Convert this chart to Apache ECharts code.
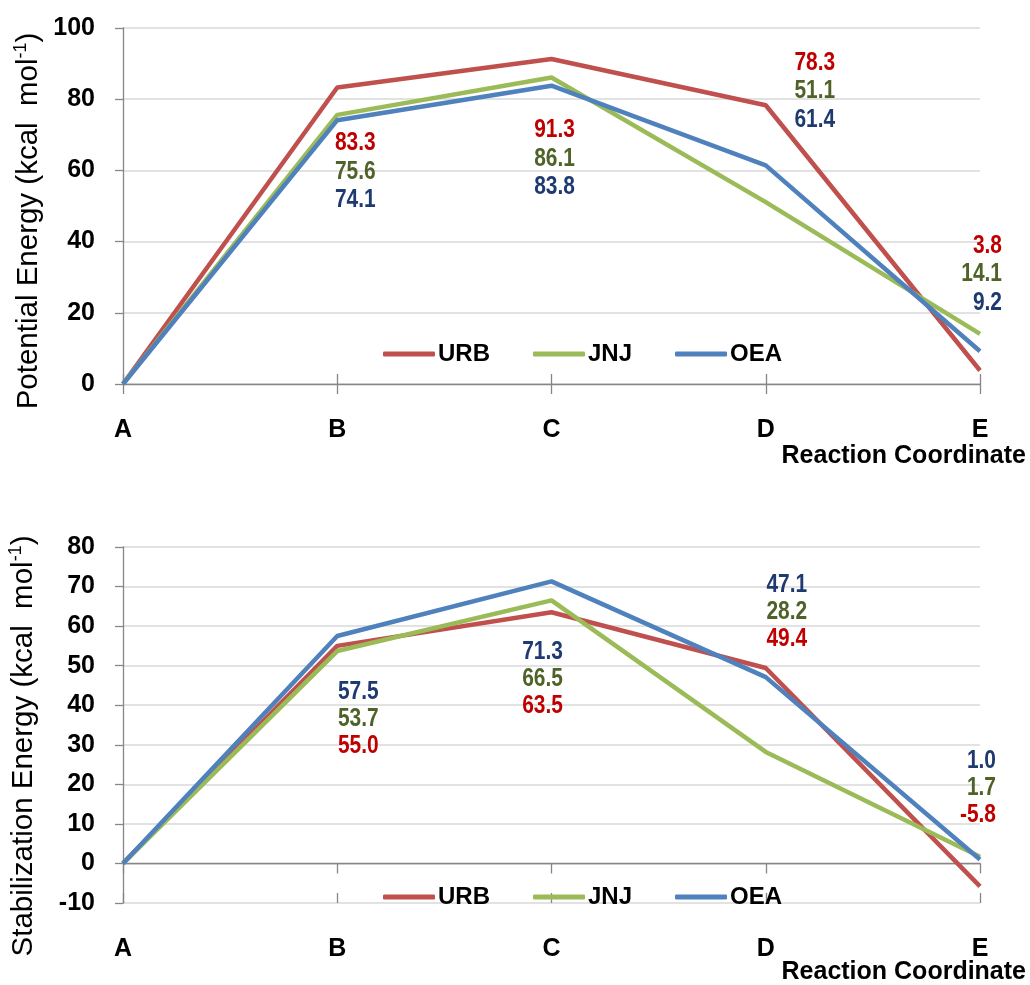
<!DOCTYPE html>
<html>
<head>
<meta charset="utf-8">
<script src="https://cdn.jsdelivr.net/npm/echarts@6/dist/echarts.min.js"></script>
<style>
  html, body { margin: 0; padding: 0; background: #ffffff; }
  #chart { width: 1030px; height: 985px; }
</style>
</head>
<body>
<div id="chart"></div>
<script>
// ---- data ----
const categories = ['A', 'B', 'C', 'D', 'E'];
const seriesNames = ['URB', 'JNJ', 'OEA'];

// Potential energy along the reaction coordinate (kcal/mol)
const potentialURB = [0, 83.3, 91.3, 78.3, 3.8];
const potentialJNJ = [0, 75.6, 86.1, 51.1, 14.1];
const potentialOEA = [0, 74.1, 83.8, 61.4, 9.2];

// Stabilization energy along the reaction coordinate (kcal/mol)
const stabilURB = [0, 55.0, 63.5, 49.4, -5.8];
const stabilJNJ = [0, 53.7, 66.5, 28.2, 1.7];
const stabilOEA = [0, 57.5, 71.3, 47.1, 1.0];

// value-axis ticks
const potentialTicks = [0, 20, 40, 60, 80, 100];
const stabilTicks = [-10, 0, 10, 20, 30, 40, 50, 60, 70, 80];

// ---- styling / layout ----
const lineColors = ['#C0504D', '#9BBB59', '#4F81BD'];
const labelColors = ['#C00000', '#4F6228', '#1F3A70'];
const FONT = "'Liberation Sans', Arial, sans-serif";

// value-label blocks per category: px shift from the category, axis value of first row centre, alignment
const potentialBlocks = [null,
  { dx: 18, top: 67.7, align: 'center' },
  { dx: 3, top: 71.3, align: 'center' },
  { dx: 49, top: 90.3, align: 'center' },
  { dx: 22, top: 38.8, align: 'right' }];
const stabilBlocks = [null,
  { dx: 21, top: 43.3, align: 'center' },
  { dx: -9, top: 53.4, align: 'center' },
  { dx: 21, top: 70.3, align: 'center' },
  { dx: 16, top: 25.9, align: 'right' }];
// which row each series occupies inside a block (URB, JNJ, OEA)
const potentialRows = [0, 1, 2];
const stabilRows = [2, 1, 0];
const potentialRowGap = 28.5;
const stabilRowGap = 27;

const panels = [
  { values: [potentialURB, potentialJNJ, potentialOEA], ticks: potentialTicks,
    blocks: potentialBlocks, rows: potentialRows, rowGap: potentialRowGap,
    grid: { left: 123, top: 28, width: 857, height: 356 }, legendTop: 342 },
  { values: [stabilURB, stabilJNJ, stabilOEA], ticks: stabilTicks,
    blocks: stabilBlocks, rows: stabilRows, rowGap: stabilRowGap,
    grid: { left: 123, top: 547, width: 857, height: 356 }, legendTop: 885 }
];

const axisGray = '#868686';
const gridGray = '#D9D9D9';

const grids = [], xAxes = [], yAxes = [], legends = [], series = [];

panels.forEach((p, g) => {
  grids.push(p.grid);
  const base = xAxes.length;
  // category labels along the bottom of the plot
  xAxes.push({
    type: 'category', gridIndex: g, data: categories, boundaryGap: false, position: 'bottom',
    axisLine: { show: false, onZero: false }, axisTick: { show: false }, splitLine: { show: false },
    axisLabel: { margin: 34, color: '#000', fontFamily: FONT, fontWeight: 'bold', fontSize: 25 }
  });
  // axis line through zero with outward ticks
  xAxes.push({
    type: 'category', gridIndex: g, data: categories, boundaryGap: false, position: 'bottom',
    axisLine: { show: true, onZero: true, lineStyle: { color: axisGray, width: 1.3 } },
    axisTick: { show: true, inside: false, length: 10, lineStyle: { color: axisGray, width: 1.3 } },
    axisLabel: { show: false }, splitLine: { show: false }
  });
  // inward ticks so the marks cross the zero line
  xAxes.push({
    type: 'category', gridIndex: g, data: categories, boundaryGap: false, position: 'bottom',
    axisLine: { show: false, onZero: true },
    axisTick: { show: true, inside: true, length: 10, lineStyle: { color: axisGray, width: 1.3 } },
    axisLabel: { show: false }, splitLine: { show: false }
  });
  const t = p.ticks;
  yAxes.push({
    type: 'value', gridIndex: g, min: t[0], max: t[t.length - 1], interval: t[1] - t[0],
    axisLine: { show: true, lineStyle: { color: axisGray, width: 1.3 } },
    axisTick: { show: true, length: 8, lineStyle: { color: axisGray, width: 1.3 } },
    axisLabel: { margin: 28, color: '#000', fontFamily: FONT, fontWeight: 'bold', fontSize: 25 },
    splitLine: { show: true, lineStyle: { color: gridGray, width: 1.5 } }
  });
  legends.push({
    data: seriesNames, left: 383, top: p.legendTop, orient: 'horizontal', padding: 0,
    icon: 'roundRect', itemWidth: 52, itemHeight: 5, itemGap: 43,
    selectedMode: false,
    textStyle: { color: '#000', fontFamily: FONT, fontWeight: 'bold', fontSize: 24, padding: [0, 0, 0, -2] }
  });
  p.values.forEach((vals, s) => {
    series.push({
      name: seriesNames[s], type: 'line', xAxisIndex: base, yAxisIndex: g,
      data: vals,
      symbol: 'none',
      lineStyle: { color: lineColors[s], width: 4.5 },
      itemStyle: { color: lineColors[s] },
      emphasis: { disabled: true },
      z: 2 + s,
      animation: false
    });
  });
});

const chart = echarts.init(document.getElementById('chart'), null, { renderer: 'canvas' });

const titleRich = {
  m: { fontFamily: FONT, fontSize: 29.5, fill: '#000' },
  s: { fontFamily: FONT, fontSize: 18, fill: '#000', padding: [0, 0, 15, 0] }
};
const graphic = [
  { type: 'text', rotation: Math.PI / 2, x: 29, y: 221,
    style: { text: '{m|Potential Energy (kcal  mol}{s|-1}{m|)}', align: 'center', verticalAlign: 'middle', rich: titleRich } },
  { type: 'text', rotation: Math.PI / 2, x: 24, y: 746,
    style: { text: '{m|Stabilization Energy (kcal  mol}{s|-1}{m|)}', align: 'center', verticalAlign: 'middle', rich: titleRich } },
  { type: 'text', x: 1026, y: 456,
    style: { text: 'Reaction Coordinate', align: 'right', verticalAlign: 'middle',
      font: "bold 25px " + FONT, fill: '#000' } },
  { type: 'text', x: 1026, y: 972,
    style: { text: 'Reaction Coordinate', align: 'right', verticalAlign: 'middle',
      font: "bold 25px " + FONT, fill: '#000' } }
];

chart.setOption({
  backgroundColor: '#ffffff',
  animation: false,
  grid: grids, xAxis: xAxes, yAxis: yAxes, legend: legends,
  series: series, graphic: graphic
});

// value labels: stacked blocks beside each category, text taken from the series values,
// positioned through the series' own coordinate system (condensed bold face)
const valueLabels = [];
panels.forEach((p, g) => {
  p.values.forEach((vals, s) => {
    const idx = g * 3 + s;
    vals.forEach((v, i) => {
      const b = p.blocks[i];
      if (!b) return;
      const pt = chart.convertToPixel({ seriesIndex: idx }, [i, v]);
      const anchor = chart.convertToPixel({ seriesIndex: idx }, [i, b.top]);
      valueLabels.push({
        type: 'text', z: 10,
        x: pt[0] + b.dx, y: anchor[1] + p.rows[s] * p.rowGap,
        scaleX: 0.82,
        style: { text: v.toFixed(1), align: b.align, verticalAlign: 'middle',
          font: "bold 25.5px " + FONT, fill: labelColors[s] }
      });
    });
  });
});
chart.setOption({ graphic: graphic.concat(valueLabels) });
</script>
</body>
</html>
